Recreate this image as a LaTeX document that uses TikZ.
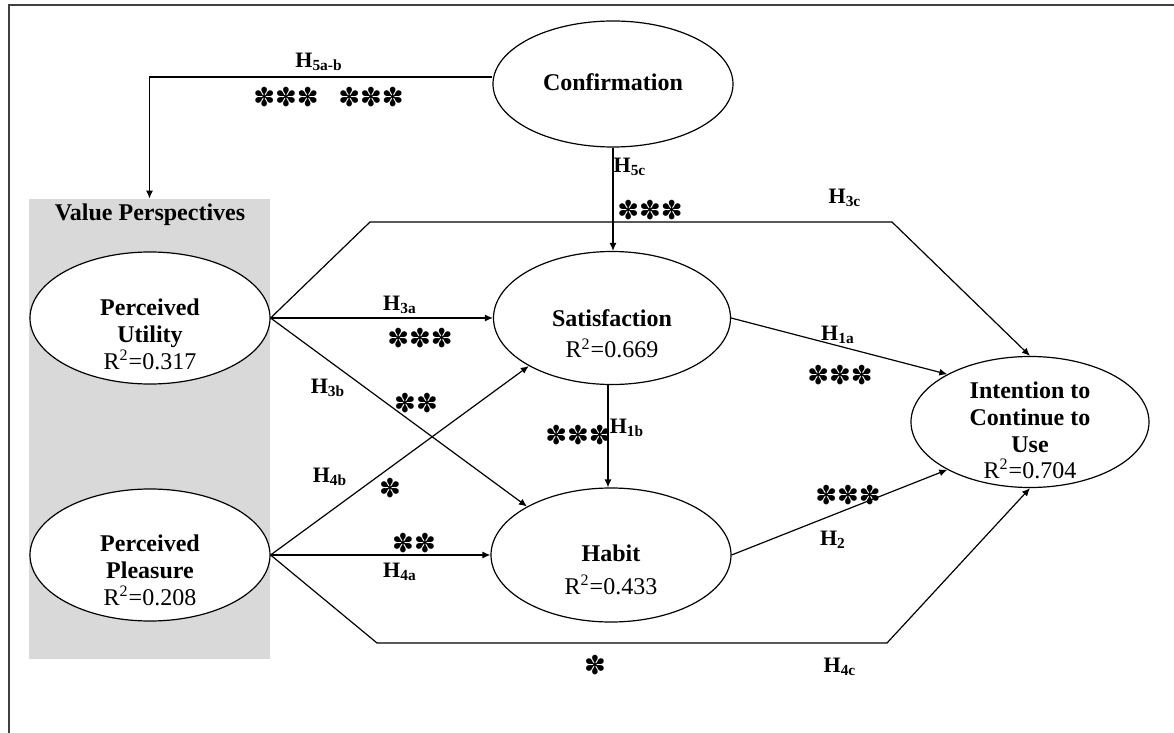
\documentclass[tikz,border=0pt]{standalone}
\usepackage{fontspec}
\setmainfont{Liberation Serif}
\newfontfamily\dingfont{DejaVu Sans}
\usetikzlibrary{shapes.geometric}
\usetikzlibrary{arrows.meta}
\definecolor{vpgray}{HTML}{D9D9D9}
\def\sig#1{{\dingfont\fontsize{13}{13}\selectfont #1}}
\def\hyp#1{\textbf{H\textsubscript{#1}}}

\begin{document}
\begin{tikzpicture}[x=0.5pt,y=-0.5pt,
    latent/.style={draw,ellipse,fill=white,line width=0.6pt,minimum width=120pt,minimum height=66pt,inner sep=0pt},
    txt/.style={align=center,font=\fontsize{12}{13.5}\selectfont,inner sep=0pt},
    lbl/.style={font=\fontsize{11}{12}\selectfont,inner sep=0pt},
    link/.style={line width=0.6pt,-{Latex[length=4pt,width=3.5pt]}}]
            \useasboundingbox (0,0) rectangle (1174,733);
            \draw[black!75,line width=1pt] (9,733) -- (9,5) -- (1174,5);
            \node[fill=vpgray,minimum width=120.5pt,minimum height=230pt,inner sep=0pt] (vp) at (149.5,429) {};
            \node[txt] (vp-t) at (150,215) {\textbf{Value Perspectives}};
            \node[latent,minimum height=63pt] (conf) at (613,84) {};
            \node[txt] (conf-t) at (613,82) {\textbf{Confirmation}};
            \node[latent] (util) at (150,318) {};
            \node[txt] (util-t) at (150,334) {\textbf{Perceived}\\\textbf{Utility}\\R\textsuperscript{2}=0.317};
            \node[latent] (plea) at (150,555) {};
            \node[txt] (plea-t) at (150,570) {\textbf{Perceived}\\\textbf{Pleasure}\\R\textsuperscript{2}=0.208};
            \node[latent,minimum width=118.5pt,minimum height=66.5pt] (sat) at (612,318) {};
            \node[txt] (sat-t) at (612,334) {\textbf{Satisfaction}\\[2pt]R\textsuperscript{2}=0.669};
            \node[latent,minimum height=67pt] (hab) at (611,555) {};
            \node[txt] (hab-t) at (611,570) {\textbf{Habit}\\[3pt]R\textsuperscript{2}=0.433};
            \node[latent,minimum width=119pt,minimum height=65.5pt] (int) at (1030,422) {};
            \node[txt] (int-t) at (1030,430) {\textbf{Intention to}\\\textbf{Continue to}\\\textbf{Use}\\[-0.5pt]R\textsuperscript{2}=0.704};
            \coordinate (c3a) at (370,222);
            \coordinate (c3b) at (892,222);
            \coordinate (c4a) at (377,643);
            \coordinate (c4b) at (887,643);
            \draw[link] ([yshift=3.5pt]conf.west) -| (vp.north);
            \draw[link] (conf.south) -- (conf.south |- sat.north);
            \draw[link] (util.east) -- (sat.west);
            \draw[link] (util.east) -- (hab.150);
            \draw[link] (util.east) -- (c3a) -- (c3b) -- (int.north);
            \draw[link] (plea.east) -- (sat.210);
            \draw[link] (plea.east) -- (hab.west);
            \draw[link] (plea.east) -- (c4a) -- (c4b) -- (int.south);
            \draw[link] (sat.east) -- (int.150);
            \draw[link] ([xshift=-2pt]sat.south) -- ([xshift=-2pt]sat.south |- hab.north);
            \draw[link] (hab.east) -- (int.210);
            \node[lbl] (h5ab) at (319,62) {\hyp{5a-b}};
            \node[lbl] (s5a) at (286,97) {\sig{✽✽✽}};
            \node[lbl] (s5b) at (371,97) {\sig{✽✽✽}};
            \node[lbl] (h5c) at (630,167) {\hyp{5c}};
            \node[lbl] (s5c) at (650,210) {\sig{✽✽✽}};
            \node[lbl] (h3c) at (845,198) {\hyp{3c}};
            \node[lbl] (h3a) at (400,305) {\hyp{3a}};
            \node[lbl] (s3a) at (420,338) {\sig{✽✽✽}};
            \node[lbl] (h3b) at (328,388) {\hyp{3b}};
            \node[lbl] (s3b) at (416,403) {\sig{✽✽}};
            \node[lbl] (h4b) at (330,477) {\hyp{4b}};
            \node[lbl] (s4b) at (390,488) {\sig{✽}};
            \node[lbl] (h4a) at (400,572) {\hyp{4a}};
            \node[lbl] (s4a) at (414,543) {\sig{✽✽}};
            \node[lbl] (h4c) at (840,667) {\hyp{4c}};
            \node[lbl] (s4c) at (595,665) {\sig{✽}};
            \node[lbl] (h1a) at (838,335) {\hyp{1a}};
            \node[lbl] (s1a) at (840,375) {\sig{✽✽✽}};
            \node[lbl] (h1b) at (627,428) {\hyp{1b}};
            \node[lbl] (s1b) at (578,435) {\sig{✽✽✽}};
            \node[lbl] (h2) at (833,540) {\hyp{2}};
            \node[lbl] (s2) at (848,495) {\sig{✽✽✽}};
        \end{tikzpicture}
\end{document}
